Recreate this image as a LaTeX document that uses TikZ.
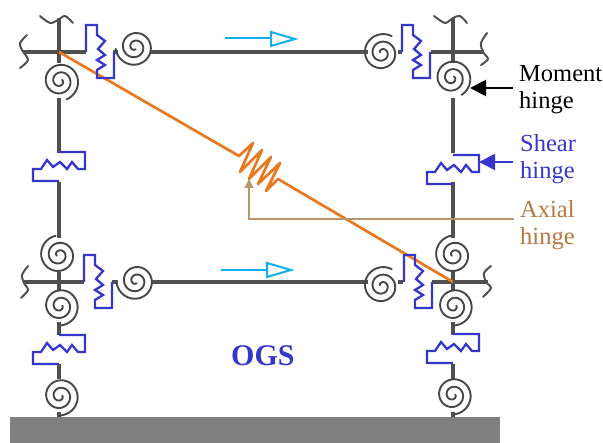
\documentclass[tikz,border=0pt]{standalone}
\usepackage{fontspec}
\setmainfont{Liberation Serif}
\usetikzlibrary{arrows.meta}
\definecolor{frameG}{HTML}{505050}
\definecolor{groundG}{HTML}{808080}
\definecolor{hingeB}{HTML}{3636CC}
\definecolor{braceO}{HTML}{E8791E}
\definecolor{axialB}{HTML}{B8956A}
\definecolor{axialT}{HTML}{B5793F}
\definecolor{flowC}{HTML}{10B0F0}
\tikzset{
  column/.style={draw=frameG,line width=4.2pt},
  beam/.style={draw=frameG,line width=3.4pt},
  squig/.style={draw=frameG,line width=2pt,line cap=round},
  spiralline/.style={draw=black!72,line width=1.9pt,line cap=round,smooth},
  hinge/.style={draw=hingeB,line width=2.3pt,line join=miter},
  brace/.style={draw=braceO,line width=2.7pt,line join=round},
  label/.style={font=\fontsize{24.5}{27}\selectfont,align=left,anchor=north west,inner sep=0pt},
}
% spiral: centre x, centre y, angle at which the outer end stops
\newcommand{\coil}[3]{\draw[spiralline] plot[domain=60:880,samples=110,variable=\t]
  ({#1+(1+0.021*\t)*cos(#3-880+\t)},{#2+(1+0.021*\t)*sin(#3-880+\t)});}
\newcommand{\vhinge}[2]{\begin{scope}[shift={(#1,#2)}]
  \draw[hinge] (0,0)--(0,-27)--(11,-27)--(11,-17)--(19,-11)--(12,-3)--(19,3)--(11,8)--(19,13)--(11,18)--(11,26)--(28,26)--(28,0);
\end{scope}}
\newcommand{\hhinge}[2]{\begin{scope}[shift={(#1,#2)}]
  \draw[hinge] (0,0)--(26,0)--(26,17)--(19,17)--(13,10)--(8,17)--(1,10)--(-6,15)--(-12,8)--(-18,17)--(-26,17)--(-26,29)--(0,29);
\end{scope}}
\begin{document}
\begin{tikzpicture}[x=1pt,y=-1pt]
\useasboundingbox (0,0) rectangle (603,443);
\fill[groundG] (10,417) rectangle (500,443);
% columns
\foreach \cx in {59,453}{
  \draw[column] (\cx,18)--(\cx,63);
  \draw[column] (\cx,98)--(\cx,153);
  \draw[column] (\cx,182)--(\cx,238);
  \draw[column] (\cx,272)--(\cx,290);
  \draw[column] (\cx,322)--(\cx,335);
  \draw[column] (\cx,364)--(\cx,379);
  \draw[column] (\cx,412)--(\cx,417);
}
% beams
\draw[beam] (23,52)--(86,52);
\draw[beam] (150,52)--(368,52);
\draw[beam] (431,52)--(484,52);
\draw[beam] (118,52)--(113,52);
\draw[beam] (402,52)--(398,52);
\draw[beam] (23,282)--(84,282);
\draw[beam] (151,282)--(368,282);
\draw[beam] (432,282)--(488,282);
\draw[beam] (112,282)--(118,282);
\draw[beam] (403,282)--(398,282);
% break marks
\draw[squig] plot[smooth] coordinates {(27,35)(20,43)(22,50)(28,60)(20,68)};
\draw[squig] plot[smooth] coordinates {(40,16)(50,23)(58,20)(65,16)(73,23)};
\draw[squig] plot[smooth] coordinates {(434,16)(445,23)(453,18)(460,16)(467,23)};
\draw[squig] plot[smooth] coordinates {(487,33)(481,43)(483,52)(488,59)(481,65)};
\draw[squig] plot[smooth] coordinates {(28,266)(22,275)(24,283)(28,290)(21,298)};
\draw[squig] plot[smooth] coordinates {(491,266)(484,273)(486,282)(491,288)(483,297)};
% brace
\draw[brace] (59,52)--(239,156)--(253,143)--(240,172)--(262,150)--(249,179)--(271,157)--(258,184)--(280,163)--(266,191)--(278,179)--(453,282);
% moment hinges
\coil{60}{81}{70}
\coil{135}{47}{175}
\coil{382}{53}{-60}
\coil{452}{78}{60}
\coil{59}{255}{-100}
\coil{136}{281}{175}
\coil{382}{286}{-60}
\coil{454}{255}{-100}
\coil{60}{306}{90}
\coil{454}{306}{90}
\coil{60}{396}{90}
\coil{453}{395}{90}
% shear hinges
\vhinge{86}{52}
\vhinge{402}{52}
\vhinge{84}{282}
\vhinge{404}{282}
\hhinge{59}{152}
\hhinge{453}{155}
\hhinge{59}{335}
\hhinge{453}{334}
% flow arrows
\coordinate (fa1) at (225,38); \coordinate (fb1) at (295,39);
\coordinate (fa2) at (221,270); \coordinate (fb2) at (291,270);
\draw[flowC,line width=2pt] (fa1)--(271,38);
\draw[flowC,line width=2pt] (fa2)--(267,270);
\draw[flowC,line width=2pt,fill=white] (271,32)--(fb1)--(271,46)--cycle;
\draw[flowC,line width=2pt,fill=white] (267,263)--(fb2)--(267,277)--cycle;
% labels
\node[label] (moment) at (519,65) {Moment\\hinge};
\node[label,text=hingeB] (shear) at (520,134) {Shear\\hinge};
\node[label,text=axialT] (axial) at (520,200) {Axial\\hinge};
\node[inner sep=0pt,anchor=base west,text=hingeB,font=\fontsize{30}{30}\selectfont\bfseries] (ogs) at (231,366) {OGS};
% pointers
\coordinate (mtip) at (470,88);
\coordinate (stip) at (479,162);
\coordinate (atip) at (249,179);
\draw[black,line width=2pt,-{Triangle[length=16pt,width=16pt]}] (513,88)--(mtip);
\draw[hingeB,line width=2pt,-{Triangle[length=16pt,width=16pt]}] (513,162)--(stip);
\draw[axialB,line width=1.6pt,-{Triangle[length=9pt,width=9pt]}] (514,219)--(249,219)--(atip);
\end{tikzpicture}
\end{document}
